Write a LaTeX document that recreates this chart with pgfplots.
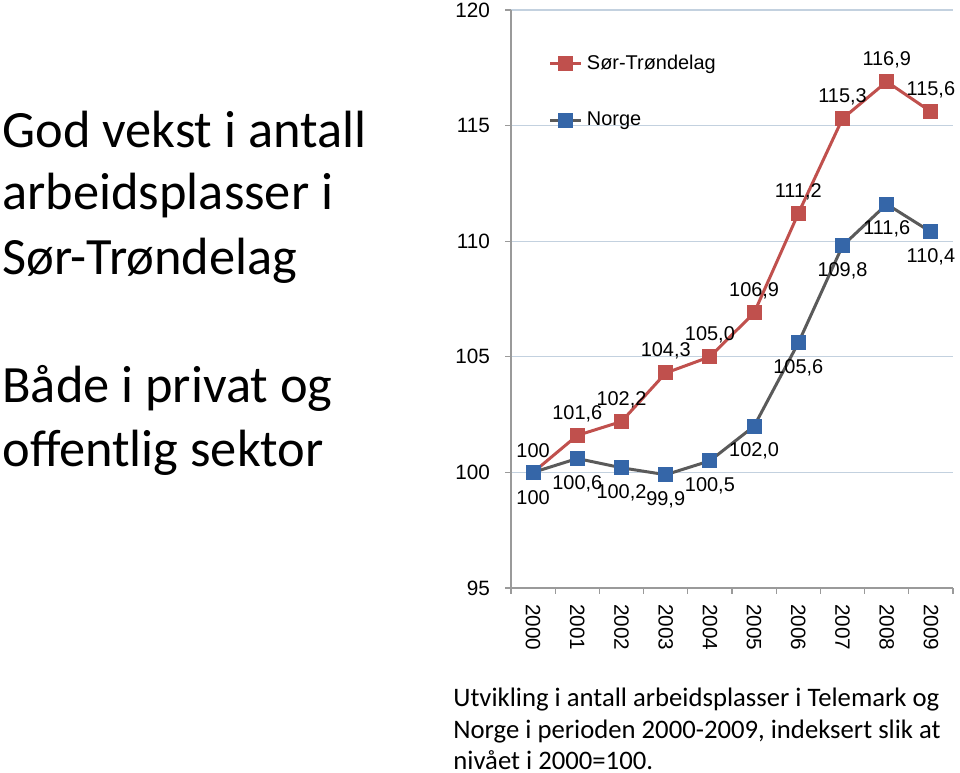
\documentclass[border=0pt]{standalone}
\usepackage{fontspec}
\setmainfont{Liberation Sans}
\newfontfamily\calibri{Carlito}
\usepackage{pgfplots}
\pgfplotsset{compat=1.18}
\definecolor{stred}{HTML}{C0504D}
\definecolor{nogray}{HTML}{5A5A5A}
\definecolor{noblue}{HTML}{3566A8}
\definecolor{gridc}{HTML}{C3D1DF}
\definecolor{axc}{HTML}{9A9A9A}
\begin{document}
\begin{tikzpicture}
\useasboundingbox (0,0) rectangle (480bp,386.5bp);
% left headline
\begin{scope}[every node/.style={anchor=base west, inner sep=0pt, font=\calibri\fontsize{26.3}{32}\selectfont}]
\node at (1bp,312.5bp) {God vekst i antall};
\node at (1bp,281.5bp) {arbeidsplasser i};
\node at (1bp,249bp) {Sør-Trøndelag};
\node at (1bp,185bp) {Både i privat og};
\node at (1bp,153bp) {offentlig sektor};
\end{scope}
% caption
\begin{scope}[every node/.style={anchor=base west, inner sep=0pt, font=\calibri\fontsize{13.4}{15}\selectfont}]
\node at (226.5bp,33.2bp) {Utvikling i antall arbeidsplasser i Telemark og};
\node at (226.5bp,17.4bp) {Norge i perioden 2000-2009, indeksert slik at};
\node at (226.5bp,1.8bp) {nivået i 2000=100.};
\end{scope}
\begin{axis}[
  at={(255.5bp,92.5bp)}, anchor=south west,
  scale only axis, width=221bp, height=289bp,
  xmin=-0.5, xmax=9.5, ymin=95, ymax=120,
  clip=false,
  axis x line*=bottom, axis y line*=left,
  axis line style={axc, line width=0.6bp, -},
  tick style={axc, line width=0.6bp},
  tick align=outside, major tick length=3bp,
  ytick={95,100,105,110,115,120},
  ymajorgrids, grid style={gridc, line width=0.6bp},
  /pgf/number format/assume math mode=true,
  yticklabel style={font=\fontsize{10.4}{12}\selectfont, anchor=east, xshift=-4bp},
  xtick={-0.5,0.5,1.5,2.5,3.5,4.5,5.5,6.5,7.5,8.5,9.5},
  xticklabels={},
  extra x ticks={0,1,2,3,4,5,6,7,8,9},
  extra x tick labels={2000,2001,2002,2003,2004,2005,2006,2007,2008,2009},
  extra x tick style={major tick length=0pt, grid=none,
     xticklabel style={rotate=-90, anchor=west, font=\fontsize{10.4}{12}\selectfont, xshift=4.5bp}},
  legend style={at={(0.085,0.93)}, anchor=north west, draw=none, fill=none,
     font=\fontsize{10}{12}\selectfont, row sep=16bp, inner sep=0pt},
  legend cell align=left,
  legend image code/.code={\draw[mark repeat=2,mark phase=2] plot coordinates {(0bp,0bp)(7.75bp,0bp)(15.5bp,0bp)};},
  point meta=explicit symbolic,
  nodes near coords,
  every node near coord/.append style={font=\fontsize{10}{12}\selectfont, text=black, anchor=center},
]
\addplot[stred, line width=1.5bp, mark=square*, mark size=3bp, mark options={fill=stred, draw=stred},
  every node near coord/.append style={yshift=11bp}]
  table[x=x, y=y, meta=l] {
x y l
0 100 100
1 101.6 101,6
2 102.2 102,2
3 104.3 104,3
4 105.0 105,0
5 106.9 106,9
6 111.2 111,2
7 115.3 115,3
8 116.9 116,9
9 115.6 115,6
};
\addlegendentry{Sør-Trøndelag}
\addplot[nogray, line width=1.5bp, mark=square*, mark size=3bp, mark options={fill=noblue, draw=noblue},
  every node near coord/.append style={yshift=-12.5bp}]
  table[x=x, y=y, meta=l] {
x y l
0 100 100
1 100.6 100,6
2 100.2 100,2
3 99.9 99,9
4 100.5 100,5
5 102.0 102,0
6 105.6 105,6
7 109.8 109,8
8 111.6 111,6
9 110.4 110,4
};
\addlegendentry{Norge}
\end{axis}
\end{tikzpicture}
\end{document}
